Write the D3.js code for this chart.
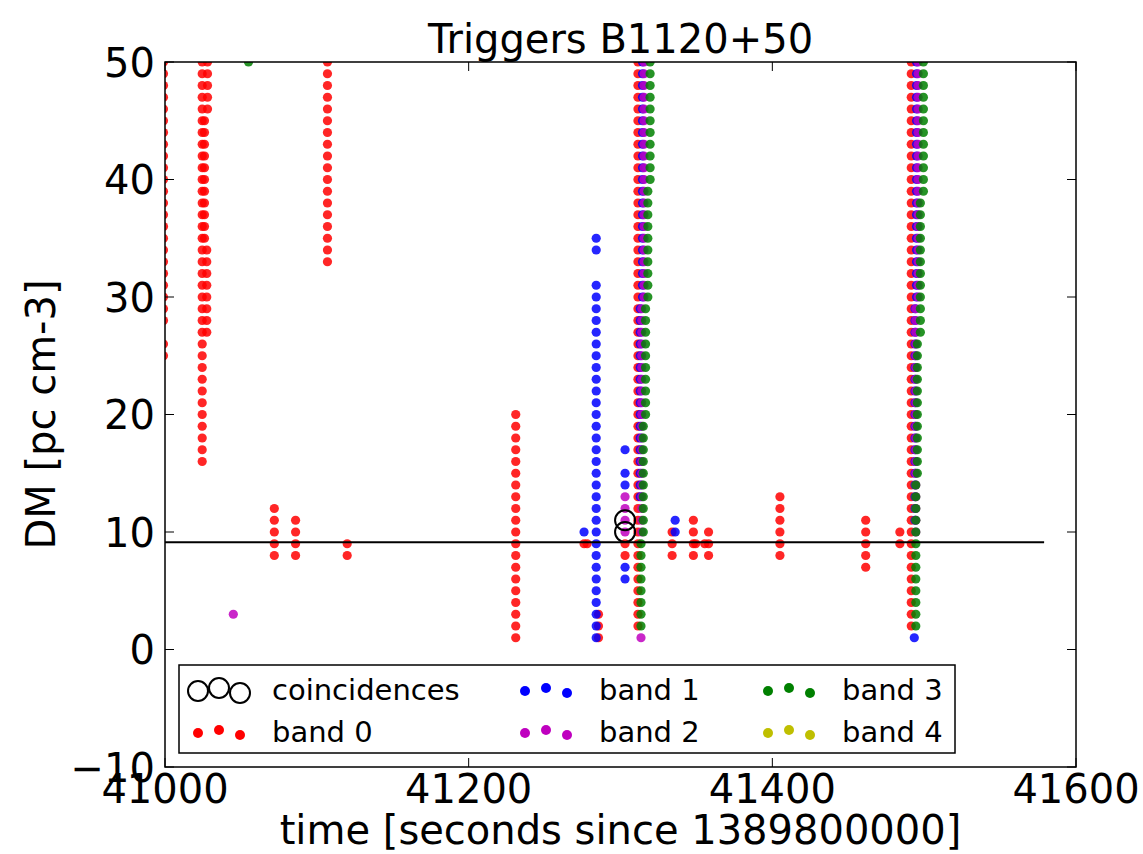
<!DOCTYPE html>
<html>
<head>
<meta charset="utf-8">
<script src="https://cdn.jsdelivr.net/npm/d3@7/dist/d3.min.js"></script>
<style>
  body { margin: 0; background: #fff; }
  text { font-family: "DejaVu Sans", sans-serif; fill: #000; }
</style>
</head>
<body>
<div id="chart"></div>
<script>
// each entry: [time, [dm values]]
const band0 = [
  [40999, [25,26,28,29,30,31,32,33,34,35,36,37,38,39,40,41,42,43,44,45,46,47,48,49,50]],
  [41024.5, [16,17,18,19,20,21,22,23,24,25,26,27,28,29,30,31,32,33,34,35,36,37,38,39,40,41,42,43,44,45,46,47,48,49,50]],
  [41026, [35,36,37,38,39,40,41,42,43,44,45]],
  [41027.5, [27,28,29,30,31,32,33,34]],
  [41028, [46,47,48,49,50]],
  [41072, [8,9,10,11,12]],
  [41086, [8,9,10,11]],
  [41107, [33,34,35,36,37,38,39,40,41,42,43,44,45,46,47,48,49,50]],
  [41120, [8,9]],
  [41231, [1,2,3,4,5,6,7,8,9,10,11,12,13,14,15,16,17,18,19,20]],
  [41276, [9]],
  [41278, [9]],
  [41285.5, [1,2,3]],
  [41303, [8,9]],
  [41311.5, [2,3,4,5,6,7,8,9,10,11,12,13,14,15,16,17,18,19,20,21,22,23,24,25,26,27,28,29,30,31,32,33,34,35,36,37,38,39,40,41,42,43,44,45,46,47,48,49,50]],
  [41334, [8,9,10]],
  [41348, [8,9,10,11]],
  [41349.5, [9]],
  [41355.5, [9]],
  [41358, [8,9,10]],
  [41405, [8,9,10,11,12,13]],
  [41461.5, [7,8,9,10,11]],
  [41484, [9,10]],
  [41491.5, [2,3,4,5,6,7,8,9,10,11,12,13,14,15,16,17,18,19,20,21,22,23,24,25,26,27,28,29,30,31,32,33,34,35,36,37,38,39,40,41,42,43,44,45,46,47,48,49,50]]
];
const band1 = [
  [41276, [10]],
  [41284, [1,2,3,4,5,6,7,8,9,10,11,12,13,14,15,16,17,18,19,20,21,22,23,24,25,26,27,28,29,30,31,34,35]],
  [41303, [6,7,14,15,17]],
  [41313, [13,14,15,16,17,18,19,20,21,22,23,24,25,26,27,28,29]],
  [41314.5, [30,31,32,33,34,35,36,37,38,39,40,41,42,43,44,45,46,47,48,49,50]],
  [41336, [10,11]],
  [41493.5, [1]],
  [41494, [11,12,13,14,15,16,17,18,19,20,21,22,23,24,25,26,27,28,29]],
  [41495, [30,31,32,33,34,35,36,37,38,39,40,41,42,43,44,45,46,47,48,49,50]]
];
const band2 = [
  [41045, [3]],
  [41303, [10,11,12,13]],
  [41313.5, [1]],
  [41314, [10,11,12,13,14,15,16,17,18,19,20,21,22,23,24,25,26,27,28,29]],
  [41315.5, [30,31,32,33,34,35,36,37,38,39,40,41,42,43,44,45,46,47,48,49,50]],
  [41494.5, [10,11,12,13,14,15,16,17,18,19,20,21,22,23,24,25,26,27,28,29]],
  [41496, [30,31,32,33,34,35,36,37,38,39,40,41,42,43,44,45,46,47,48,49,50]]
];
const band3 = [
  [41055, [50]],
  [41313.5, [2,3,4,5,6,7,8,9]],
  [41315, [10,11,12,13,14,15,16,17,18,19]],
  [41316.5, [20,21,22,23,24,25,26,27,28,29]],
  [41318, [30,31,32,33,34,35,36,37,38,39]],
  [41319.5, [40,41,42,43,44,45,46,47,48,49,50]],
  [41494.5, [2,3,4,5,6,7,8,9,10,11,12,13,14]],
  [41495.5, [15,16,17,18,19,20,21,22,23,24,25,26]],
  [41497.5, [27,28,29,30,31,32,33,34,35,36,37,38]],
  [41499.5, [39,40,41,42,43,44,45,46,47,48,49,50]]
];
const band4 = [];
const coincidences = [[41303, 11], [41303, 10]];
const dm_line = {t0: 41000, t1: 41579, dm: 9.12};

const bands = [
  {name: 'band 0', color: '#ff0000', data: band0},
  {name: 'band 1', color: '#0000ff', data: band1},
  {name: 'band 2', color: '#bf00bf', data: band2},
  {name: 'band 3', color: '#008000', data: band3},
  {name: 'band 4', color: '#bfbf00', data: band4}
];
const x_ticks = [41000, 41200, 41400, 41600];
const y_ticks = [-10, 0, 10, 20, 30, 40, 50];

const W = 1143, H = 854;
const margin = {t: 62, r: 67, b: 87, l: 165};
const width = W - margin.l - margin.r;
const height = H - margin.t - margin.b;

const svg = d3.select('#chart').append('svg').attr('width', W).attr('height', H);
svg.append('rect').attr('width', W).attr('height', H).attr('fill', '#fff');

const xScale = d3.scaleLinear([41000, 41600], [0, width]);
const yScale = d3.scaleLinear([-10, 50], [height, 0]);

const mainG = svg.append('g').attr('transform', `translate(${margin.l},${margin.t})`);
mainG.append('clipPath').attr('id', 'clip').append('rect').attr('width', width).attr('height', height);

const plotG = mainG.append('g').attr('clip-path', 'url(#clip)');

// flatten columns into points
bands.forEach(b => {
  const pts = [];
  b.data.forEach(([t, dms]) => dms.forEach(dm => pts.push({t, dm})));
  plotG.append('g').selectAll('circle').data(pts).join('circle')
    .attr('cx', d => xScale(d.t)).attr('cy', d => yScale(d.dm))
    .attr('r', 4.6).attr('fill', b.color).attr('fill-opacity', 0.85);
});

plotG.append('g').selectAll('circle').data(coincidences).join('circle')
  .attr('cx', d => xScale(d[0])).attr('cy', d => yScale(d[1]))
  .attr('r', 10).attr('fill', 'none').attr('stroke', '#000').attr('stroke-width', 2);

plotG.append('line')
  .attr('x1', xScale(dm_line.t0)).attr('x2', xScale(dm_line.t1))
  .attr('y1', yScale(dm_line.dm)).attr('y2', yScale(dm_line.dm))
  .attr('stroke', '#000').attr('stroke-width', 2);

// inward ticks on all sides
const tick_len = 9;
x_ticks.forEach(v => {
  mainG.append('line').attr('x1', xScale(v)).attr('x2', xScale(v)).attr('y1', height).attr('y2', height - tick_len).attr('stroke', '#000');
  mainG.append('line').attr('x1', xScale(v)).attr('x2', xScale(v)).attr('y1', 0).attr('y2', tick_len).attr('stroke', '#000');
  mainG.append('text').attr('x', xScale(v)).attr('y', height + 36).attr('text-anchor', 'middle')
    .style('font-size', '40px').text(v);
});
y_ticks.forEach(v => {
  mainG.append('line').attr('x1', 0).attr('x2', tick_len).attr('y1', yScale(v)).attr('y2', yScale(v)).attr('stroke', '#000');
  mainG.append('line').attr('x1', width).attr('x2', width - tick_len).attr('y1', yScale(v)).attr('y2', yScale(v)).attr('stroke', '#000');
  mainG.append('text').attr('x', -10).attr('y', yScale(v) + 14.5).attr('text-anchor', 'end')
    .style('font-size', '40px').text(v < 0 ? '\u2212' + Math.abs(v) : v);
});

mainG.append('rect').attr('width', width).attr('height', height)
  .attr('fill', 'none').attr('stroke', '#000').attr('stroke-width', 1.5);

// legend
const leg = svg.append('g').attr('transform', 'translate(179,665)');
leg.append('rect').attr('width', 776).attr('height', 88).attr('fill', '#fff').attr('stroke', '#000').attr('stroke-width', 1.5);
const leg_items = [
  {name: 'coincidences', col: 0, row: 0, circle: true},
  {name: bands[0].name, color: bands[0].color, col: 0, row: 1},
  {name: bands[1].name, color: bands[1].color, col: 1, row: 0},
  {name: bands[2].name, color: bands[2].color, col: 1, row: 1},
  {name: bands[3].name, color: bands[3].color, col: 2, row: 0},
  {name: bands[4].name, color: bands[4].color, col: 2, row: 1}
];
const col_x = [19, 346, 589];
const row_y = [25, 67];
const marker_dx = [0, 21, 42];
const marker_dy = [1, -2, 3];
leg_items.forEach(it => {
  const g = leg.append('g').attr('transform', `translate(${col_x[it.col]},${row_y[it.row]})`);
  marker_dx.forEach((dx, i) => {
    const c = g.append('circle').attr('cx', dx).attr('cy', marker_dy[i]);
    if (it.circle) c.attr('r', 10).attr('fill', 'none').attr('stroke', '#000').attr('stroke-width', 2);
    else c.attr('r', 5).attr('fill', it.color);
  });
  g.append('text').attr('x', 74).attr('y', 10).style('font-size', '29px').text(it.name);
});

// titles
svg.append('text').attr('x', margin.l + width / 2).attr('y', 53).attr('text-anchor', 'middle')
  .style('font-size', '40px').text('Triggers B1120+50');
svg.append('text').attr('x', margin.l + width / 2).attr('y', 844).attr('text-anchor', 'middle')
  .style('font-size', '40px').text('time [seconds since 1389800000]');
svg.append('text').attr('transform', `translate(55,${margin.t + height / 2}) rotate(-90)`)
  .attr('text-anchor', 'middle').style('font-size', '40px').text('DM [pc cm-3]');
</script>
</body>
</html>
